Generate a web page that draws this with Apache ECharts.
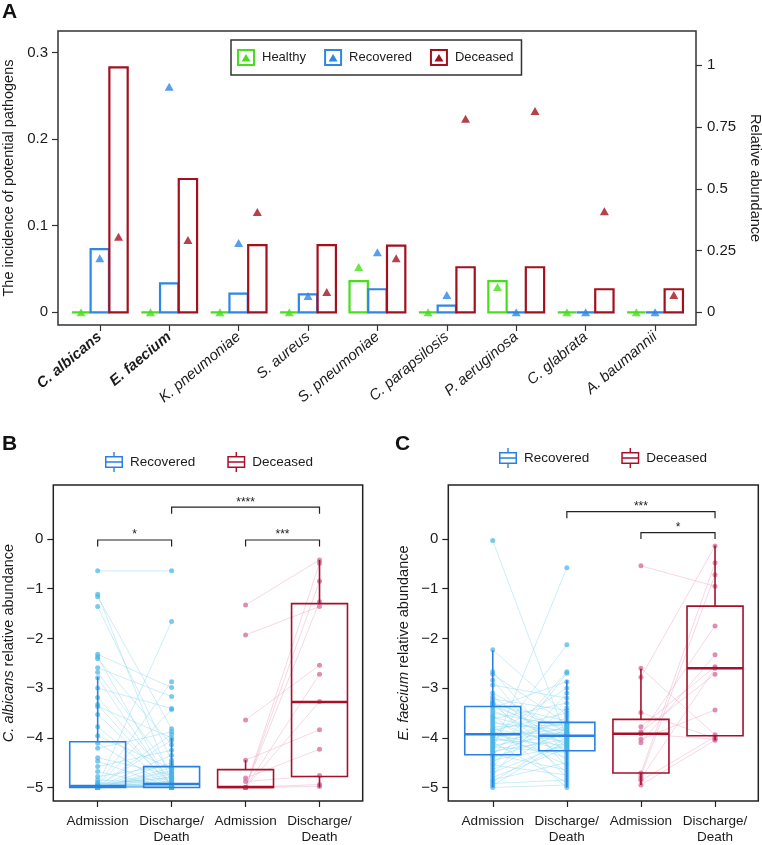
<!DOCTYPE html>
<html><head><meta charset="utf-8">
<script src="https://cdn.jsdelivr.net/npm/echarts@6/dist/echarts.min.js"></script>
<style>html,body{margin:0;padding:0;background:#fff}#c{width:762px;height:845px}</style>
</head><body><div id="c"></div>
<script>
// ---------- Panel A data ----------
const pathogens = ['C. albicans','E. faecium','K. pneumoniae','S. aureus','S. pneumoniae','C. parapsilosis','P. aeruginosa','C. glabrata','A. baumannii'];
const boldPathogens = ['C. albicans','E. faecium'];
const incidenceHealthy   = [0, 0, 0, 0, 0.036, 0, 0.036, 0, 0];
const incidenceRecovered = [0.073, 0.0335, 0.0215, 0.0208, 0.0266, 0.0077, 0, 0, 0];
const incidenceDeceased  = [0.283, 0.154, 0.0775, 0.0775, 0.077, 0.052, 0.052, 0.0266, 0.0266];
const abundanceHealthy   = [0, 0, 0, 0, 0.183, 0, 0.102, 0, 0];
const abundanceRecovered = [0.219, 0.913, 0.281, 0.066, 0.243, 0.07, 0, 0, 0];
const abundanceDeceased  = [0.306, 0.293, 0.406, 0.082, 0.219, 0.784, 0.815, 0.409, 0.07];
const incidenceTicks = [0, 0.1, 0.2, 0.3];
const abundanceTicks = [0, 0.25, 0.5, 0.75, 1];

// ---------- Panels B / C data ----------
const timepoints = ['Admission', 'Discharge/\nDeath', 'Admission', 'Discharge/\nDeath'];
const logTicks = [0, -1, -2, -3, -4, -5];

const bRecAdm = [-0.64,-1.11,-1.16,-1.36,-2.32,-2.37,-2.41,-2.59,-2.68,-2.79,-3.0,-3.19,-3.33,-3.37,-3.53,-3.78,-3.96,-4.11,-4.21,-4.4,-4.47,-4.58,-4.68,-4.78,-4.85,-4.9,-4.93,-4.95,-4.96,-4.97,-4.97,-4.98,-4.98,-4.99,-4.99,
 -5,-5,-5,-5,-5,-5,-5,-5,-5,-5,-5,-5,-5,-5,-5,-5,-5,-5,-5,-5,-5,-5,-5,-5,-5,-5,-5,-5,-5,-5,-5,-5,-5,-5,-5,-5,-5];
const bRecDis = [-0.64,-4.9,-3.82,-4.45,-2.99,-5,-4.14,-3.17,-4.7,-5,-3.41,-4.85,-5,-4.0,-4.93,-5,-4.62,-5,-3.88,-4.75,-5,-4.25,-5,-4.55,-4.92,-5,-4.8,-5,-1.66,-2.87,-3.43,-3.93,-4.05,-4.35,-4.5,
 -4.6,-4.65,-4.68,-4.73,-4.78,-4.82,-4.87,-4.88,-4.91,-4.93,-4.94,-4.95,-4.96,-4.97,-4.98,
 -5,-5,-5,-5,-5,-5,-5,-5,-5,-5,-5,-5,-5,-5,-5,-5,-5,-5,-5,-5,-5,-5];
const bDecAdm = [-1.33,-1.93,-3.64,-4.45,-4.81,-4.88,-5,-5,-5,-5,-5,-5,-5];
const bDecDis = [-0.42,-1.36,-2.54,-3.84,-4.23,-4.76,-0.49,-0.85,-1.26,-2.72,-3.27,-4.94,-4.98];

const cRecAdm = [-0.03,-2.23,-2.67,-2.72,-2.84,-2.94,-3.1,-3.17,-3.22,-3.27,-3.29,-3.31,-3.33,-3.34,-3.36,
 -3.4,-3.45,-3.5,-3.55,-3.58,-3.62,-3.66,-3.7,-3.74,-3.78,-3.82,-3.85,-3.88,-3.9,-3.92,
 -3.94,-3.96,-3.98,-4.0,-4.03,-4.06,-4.09,-4.12,-4.15,-4.18,-4.21,-4.24,-4.27,-4.3,-4.33,
 -4.36,-4.4,-4.45,-4.5,-4.55,-4.6,-4.65,-4.7,-4.75,-4.8,-4.85,-4.88,-4.92,-4.96,-5.0];
const cRecDis = [-4.01,-3.55,-4.35,-3.72,-4.6,-3.2,-3.9,-4.19,-3.45,-4.8,-3.84,-4.07,-3.66,-4.45,-3.95,
 -2.87,-4.13,-3.78,-4.7,-3.97,-3.3,-4.23,-3.86,-5.0,-3.74,-4.09,-3.5,-4.55,-3.92,-4.25,
 -3.0,-3.82,-4.4,-3.7,-4.15,-3.88,-4.9,-2.13,-3.94,-4.3,-3.6,-0.58,-4.03,-3.76,-4.65,
 -2.67,-3.91,-4.17,-3.4,-4.75,-2.7,-3.8,-4.11,-3.1,-4.21,-4.5,-3.99,-4.85,-4.05,-4.95];
const cDecAdm = [-0.54,-2.6,-2.78,-3.49,-3.78,-3.88,-3.92,-3.92,-4.03,-4.1,-4.71,-4.77,-4.82,-4.86,-4.95];
const cDecDis = [-0.95,-3.94,-0.14,-4.01,-2.57,-2.72,-4.03,-1.75,-3.44,-2.33,-0.48,-0.72,-2.6,-3.98,-4.05];

// box statistics [min, Q1, median, Q3, max]
const bRecAdmBox = [-5, -5, -4.97, -4.08, -2.78];
const bRecDisBox = [-5, -5, -4.93, -4.58, -4.0];
const bDecAdmBox = [-5, -5, -4.99, -4.64, -4.45];
const bDecDisBox = [-5, -4.78, -3.28, -1.30, -0.42];
const cRecAdmBox = [-5, -4.34, -3.93, -3.37, -2.24];
const cRecDisBox = [-5, -4.26, -3.96, -3.69, -2.84];
const cDecAdmBox = [-4.95, -4.71, -3.92, -3.63, -2.61];
const cDecDisBox = [-4.05, -3.96, -2.60, -1.35, -0.13];

// significance brackets [from, to, level]
const bSig = [[0, 1, -0.02], [2, 3, -0.02], [1, 3, 0.64]];
const bSigLabels = ['*', '***', '****'];
const cSig = [[1, 3, 0.55], [2, 3, 0.13]];
const cSigLabels = ['***', '*'];

// ---------- styles ----------
const GREEN = '#47df1c', BLUE_A = '#2f86e6', RED_A = '#a3111f';
const BLUE = '#2a80e2', RED = '#a80f2b';
const BLUE_PT = '#46b3e6', RED_PT = '#cf5f96';
const BLUE_LN = '#8ad6ee', RED_LN = '#eaa2c2';
const FONT = '"Liberation Sans", Arial, Helvetica, sans-serif';
const INK = '#1c1c1c';
const OFFSETS = [-0.27, 0, 0.27];
const BAR_HALF = 0.132;
const BOX_HALF = 0.378;

const iconA = 'path://M0,0H18V17H0Z M2,2V15H16V2Z M9,5L13.5,12.5H4.5Z';
const iconBox = 'path://M9.3,0H10.7V4H9.3Z M1,4H19V16H1Z M2.5,5.5V14.5H17.5V5.5Z M2.5,9.3H17.5V10.7H2.5Z M9.3,16H10.7V20H9.3Z';

function barRender(offset, color) {
  return function (params, api) {
    const x = api.value(0), v = api.value(1);
    const p0 = api.coord([x + offset - BAR_HALF, 0]);
    const p1 = api.coord([x + offset + BAR_HALF, v]);
    return { type: 'rect', shape: { x: p0[0], y: p1[1], width: p1[0] - p0[0], height: p0[1] - p1[1] },
      style: { fill: 'none', stroke: color, lineWidth: 2.2 } };
  };
}
function pairRender(color) {
  return function (params, api) {
    const b = api.value(0);
    const p1 = api.coord([b, api.value(1)]);
    const p2 = api.coord([b + 1, api.value(2)]);
    return { type: 'line', shape: { x1: p1[0], y1: p1[1], x2: p2[0], y2: p2[1] },
      style: { stroke: color, lineWidth: 0.8, opacity: 0.55 } };
  };
}
function boxRender(color) {
  return function (params, api) {
    const x = api.value(0);
    const lo = api.value(1), q1 = api.value(2), md = api.value(3), q3 = api.value(4), hi = api.value(5);
    const tl = api.coord([x - BOX_HALF, q3]), br = api.coord([x + BOX_HALF, q1]);
    const c0 = api.coord([x, lo]), c1 = api.coord([x, q1]), c3 = api.coord([x, q3]), c4 = api.coord([x, hi]);
    const m1 = api.coord([x - BOX_HALF, md]), m2 = api.coord([x + BOX_HALF, md]);
    return { type: 'group', children: [
      { type: 'line', shape: { x1: c0[0], y1: c0[1], x2: c1[0], y2: c1[1] }, style: { stroke: color, lineWidth: 1.6 } },
      { type: 'line', shape: { x1: c3[0], y1: c3[1], x2: c4[0], y2: c4[1] }, style: { stroke: color, lineWidth: 1.6 } },
      { type: 'rect', shape: { x: tl[0], y: tl[1], width: br[0] - tl[0], height: br[1] - tl[1] }, style: { fill: 'none', stroke: color, lineWidth: 1.6 } },
      { type: 'line', shape: { x1: m1[0], y1: m1[1], x2: m2[0], y2: m2[1] }, style: { stroke: color, lineWidth: 2.6 } }
    ] };
  };
}
function sigRender(labels) {
  return function (params, api) {
    const a = api.coord([api.value(0), api.value(2)]);
    const b = api.coord([api.value(1), api.value(2)]);
    return { type: 'group', children: [
      { type: 'polyline', shape: { points: [[a[0], a[1] + 6.5], [a[0], a[1]], [b[0], b[1]], [b[0], b[1] + 6.5]] },
        style: { fill: 'none', stroke: '#222', lineWidth: 1.2 } },
      { type: 'text', style: { text: labels[params.dataIndex], x: (a[0] + b[0]) / 2, y: a[1] + 1,
        align: 'center', verticalAlign: 'bottom', fontSize: 12, fontFamily: FONT, fill: '#222' } }
    ] };
  };
}
const toXY = (arr, x) => arr.map(v => [x, v]);
const toPairs = (a, d, base) => a.map((v, i) => [base, v, d[i]]);
const minus = v => v === 0 ? '0' : '\u2212' + Math.abs(v);

function panelAxes(gridIndex, name) {
  const x = {
    type: 'value', gridIndex, min: -0.6, max: 3.584,
    splitLine: { show: false }, axisLine: { show: false, onZero: false },
    axisTick: { show: true, length: 6, customValues: [0, 1, 2, 3], lineStyle: { color: '#222', width: 1.2 } },
    axisLabel: { customValues: [0, 1, 2, 3], formatter: v => timepoints[Math.round(v)], margin: 12,
      fontSize: 13.5, lineHeight: 16, color: INK, fontFamily: FONT }
  };
  const y = {
    type: 'value', gridIndex, min: -5.272, max: 1.087,
    splitLine: { show: false }, axisLine: { show: false, onZero: false },
    axisTick: { show: true, length: 6, customValues: logTicks, lineStyle: { color: '#222', width: 1.2 } },
    axisLabel: { customValues: logTicks, formatter: minus, margin: 10, fontSize: 15, color: INK, fontFamily: FONT },
    name: name, nameLocation: 'middle', nameRotate: 90, nameGap: 37,
    nameTextStyle: { fontSize: 14.5, color: INK, fontFamily: FONT, rich: { i: { fontStyle: 'italic', fontSize: 14.5, color: INK, fontFamily: FONT } } }
  };
  return [x, y];
}
const [bx, by] = panelAxes(1, '{i|C. albicans} relative abundance');
const [cx, cy] = panelAxes(2, '{i|E. faecium} relative abundance');

const option = {
  animation: false,
  backgroundColor: '#fff',
  textStyle: { fontFamily: FONT },
  title: [
    { text: 'A', left: 2, top: 2, padding: 0, textStyle: { fontSize: 21, fontWeight: 'bold', color: '#111', fontFamily: FONT } },
    { text: 'B', left: 2, top: 434, padding: 0, textStyle: { fontSize: 21, fontWeight: 'bold', color: '#111', fontFamily: FONT } },
    { text: 'C', left: 395, top: 434, padding: 0, textStyle: { fontSize: 21, fontWeight: 'bold', color: '#111', fontFamily: FONT } }
  ],
  legend: [
    { left: 231, top: 40, orient: 'horizontal', selectedMode: false, padding: [9, 8, 9, 6],
      itemWidth: 18, itemHeight: 17, itemGap: 18, borderColor: '#333', borderWidth: 1.5,
      itemStyle: { borderWidth: 0 },
      textStyle: { fontSize: 13, color: INK, fontFamily: FONT, padding: [0, 0, 0, 2] },
      data: [
        { name: 'Healthy', icon: iconA, itemStyle: { color: GREEN } },
        { name: 'Recovered', icon: iconA, itemStyle: { color: BLUE_A } },
        { name: 'Deceased', icon: iconA, itemStyle: { color: RED_A } }
      ] },
    { left: 105, top: 452, selectedMode: false, padding: 0, itemWidth: 18, itemHeight: 20, itemGap: 32,
      itemStyle: { borderWidth: 0 },
      textStyle: { fontSize: 13.5, color: INK, fontFamily: FONT, padding: [0, 0, 0, 2] },
      data: [
        { name: 'Recovered', icon: iconBox, itemStyle: { color: BLUE } },
        { name: 'Deceased', icon: iconBox, itemStyle: { color: RED } }
      ] },
    { left: 499, top: 448, selectedMode: false, padding: 0, itemWidth: 18, itemHeight: 20, itemGap: 32,
      itemStyle: { borderWidth: 0 },
      textStyle: { fontSize: 13.5, color: INK, fontFamily: FONT, padding: [0, 0, 0, 2] },
      data: [
        { name: 'Recovered', icon: iconBox, itemStyle: { color: BLUE } },
        { name: 'Deceased', icon: iconBox, itemStyle: { color: RED } }
      ] }
  ],
  grid: [
    { left: 58, top: 31, width: 638, height: 294, show: true, borderColor: '#333', borderWidth: 1.5, backgroundColor: 'transparent', outerBoundsMode: 'none', containLabel: false },
    { left: 53.3, top: 485, width: 309.4, height: 316, show: true, borderColor: '#222', borderWidth: 1.5, backgroundColor: 'transparent', outerBoundsMode: 'none', containLabel: false },
    { left: 448.3, top: 485, width: 310, height: 316, show: true, borderColor: '#222', borderWidth: 1.5, backgroundColor: 'transparent', outerBoundsMode: 'none', containLabel: false }
  ],
  xAxis: [
    { type: 'value', gridIndex: 0, min: -0.602, max: 8.59,
      splitLine: { show: false }, axisLine: { show: false, onZero: false },
      axisTick: { show: true, length: 6, customValues: [0,1,2,3,4,5,6,7,8], lineStyle: { color: '#333', width: 1.2 } },
      axisLabel: { customValues: [0,1,2,3,4,5,6,7,8], rotate: 40, margin: 10, color: INK,
        formatter: v => { const n = pathogens[Math.round(v)]; return (boldPathogens.indexOf(n) >= 0 ? '{b|' : '{n|') + n + '}'; },
        rich: { b: { fontStyle: 'italic', fontWeight: 'bold', fontSize: 15, color: INK, fontFamily: FONT },
                n: { fontStyle: 'italic', fontSize: 15, color: INK, fontFamily: FONT } } } },
    bx, cx
  ],
  yAxis: [
    { type: 'value', gridIndex: 0, min: -0.0147, max: 0.325,
      splitLine: { show: false }, axisLine: { show: false, onZero: false },
      axisTick: { show: true, length: 6, customValues: incidenceTicks, lineStyle: { color: '#333', width: 1.2 } },
      axisLabel: { customValues: incidenceTicks, formatter: v => v === 0 ? '0' : v.toFixed(1), margin: 10, fontSize: 15, color: INK, fontFamily: FONT },
      name: 'The incidence of potential pathogens', nameLocation: 'middle', nameRotate: 90, nameGap: 42,
      nameTextStyle: { fontSize: 14.5, color: INK, fontFamily: FONT } },
    { type: 'value', gridIndex: 0, position: 'right', min: -0.0514, max: 1.139,
      splitLine: { show: false }, axisLine: { show: false, onZero: false },
      axisTick: { show: true, length: 6, customValues: abundanceTicks, lineStyle: { color: '#333', width: 1.2 } },
      axisLabel: { customValues: abundanceTicks, formatter: v => String(v), margin: 11, fontSize: 15, color: INK, fontFamily: FONT },
      name: 'Relative abundance', nameLocation: 'middle', nameRotate: -90, nameGap: 49,
      nameTextStyle: { fontSize: 14.5, color: INK, fontFamily: FONT } },
    by, cy
  ],
  series: [
    // Panel A bars
    { type: 'custom', name: 'Healthy', xAxisIndex: 0, yAxisIndex: 0, itemStyle: { color: GREEN },
      renderItem: barRender(OFFSETS[0], GREEN), data: incidenceHealthy.map((v, i) => [i, v]), z: 2 },
    { type: 'custom', name: 'Recovered', xAxisIndex: 0, yAxisIndex: 0, itemStyle: { color: BLUE_A },
      renderItem: barRender(OFFSETS[1], BLUE_A), data: incidenceRecovered.map((v, i) => [i, v]), z: 2 },
    { type: 'custom', name: 'Deceased', xAxisIndex: 0, yAxisIndex: 0, itemStyle: { color: RED_A },
      renderItem: barRender(OFFSETS[2], RED_A), data: incidenceDeceased.map((v, i) => [i, v]), z: 3 },
    // Panel A triangles
    { type: 'scatter', name: 'Healthy', xAxisIndex: 0, yAxisIndex: 1, symbol: 'triangle', symbolSize: [9, 8],
      itemStyle: { color: GREEN }, data: abundanceHealthy.map((v, i) => [i + OFFSETS[0], v]), z: 4 },
    { type: 'scatter', name: 'Recovered', xAxisIndex: 0, yAxisIndex: 1, symbol: 'triangle', symbolSize: [9, 8],
      itemStyle: { color: BLUE_A }, data: abundanceRecovered.map((v, i) => [i + OFFSETS[1], v]), z: 4 },
    { type: 'scatter', name: 'Deceased', xAxisIndex: 0, yAxisIndex: 1, symbol: 'triangle', symbolSize: [9, 8],
      itemStyle: { color: RED_A }, data: abundanceDeceased.map((v, i) => [i + OFFSETS[2], v]), z: 4 },

    // Panel B
    { type: 'custom', name: 'bRecPairs', xAxisIndex: 1, yAxisIndex: 2, renderItem: pairRender(BLUE_LN), data: toPairs(bRecAdm, bRecDis, 0), z: 1, silent: true },
    { type: 'custom', name: 'bDecPairs', xAxisIndex: 1, yAxisIndex: 2, renderItem: pairRender(RED_LN), data: toPairs(bDecAdm, bDecDis, 2), z: 1, silent: true },
    { type: 'scatter', name: 'bRecPts', xAxisIndex: 1, yAxisIndex: 2, symbolSize: 5, itemStyle: { color: BLUE_PT, opacity: 0.7 }, data: toXY(bRecAdm, 0).concat(toXY(bRecDis, 1)), z: 2 },
    { type: 'scatter', name: 'bDecPts', xAxisIndex: 1, yAxisIndex: 2, symbolSize: 5, itemStyle: { color: RED_PT, opacity: 0.7 }, data: toXY(bDecAdm, 2).concat(toXY(bDecDis, 3)), z: 2 },
    { type: 'custom', name: 'Recovered', xAxisIndex: 1, yAxisIndex: 2, itemStyle: { color: BLUE }, renderItem: boxRender(BLUE), data: [[0].concat(bRecAdmBox), [1].concat(bRecDisBox)], z: 3 },
    { type: 'custom', name: 'Deceased', xAxisIndex: 1, yAxisIndex: 2, itemStyle: { color: RED }, renderItem: boxRender(RED), data: [[2].concat(bDecAdmBox), [3].concat(bDecDisBox)], z: 3 },
    { type: 'custom', name: 'bSig', xAxisIndex: 1, yAxisIndex: 2, renderItem: sigRender(bSigLabels), data: bSig, z: 4 },

    // Panel C
    { type: 'custom', name: 'cRecPairs', xAxisIndex: 2, yAxisIndex: 3, renderItem: pairRender(BLUE_LN), data: toPairs(cRecAdm, cRecDis, 0), z: 1, silent: true },
    { type: 'custom', name: 'cDecPairs', xAxisIndex: 2, yAxisIndex: 3, renderItem: pairRender(RED_LN), data: toPairs(cDecAdm, cDecDis, 2), z: 1, silent: true },
    { type: 'scatter', name: 'cRecPts', xAxisIndex: 2, yAxisIndex: 3, symbolSize: 5, itemStyle: { color: BLUE_PT, opacity: 0.7 }, data: toXY(cRecAdm, 0).concat(toXY(cRecDis, 1)), z: 2 },
    { type: 'scatter', name: 'cDecPts', xAxisIndex: 2, yAxisIndex: 3, symbolSize: 5, itemStyle: { color: RED_PT, opacity: 0.7 }, data: toXY(cDecAdm, 2).concat(toXY(cDecDis, 3)), z: 2 },
    { type: 'custom', name: 'Recovered', xAxisIndex: 2, yAxisIndex: 3, itemStyle: { color: BLUE }, renderItem: boxRender(BLUE), data: [[0].concat(cRecAdmBox), [1].concat(cRecDisBox)], z: 3 },
    { type: 'custom', name: 'Deceased', xAxisIndex: 2, yAxisIndex: 3, itemStyle: { color: RED }, renderItem: boxRender(RED), data: [[2].concat(cDecAdmBox), [3].concat(cDecDisBox)], z: 3 },
    { type: 'custom', name: 'cSig', xAxisIndex: 2, yAxisIndex: 3, renderItem: sigRender(cSigLabels), data: cSig, z: 4 }
  ]
};
const chart = echarts.init(document.getElementById('c'), null, { renderer: 'canvas' });
chart.setOption(option);
</script>
</body></html>
